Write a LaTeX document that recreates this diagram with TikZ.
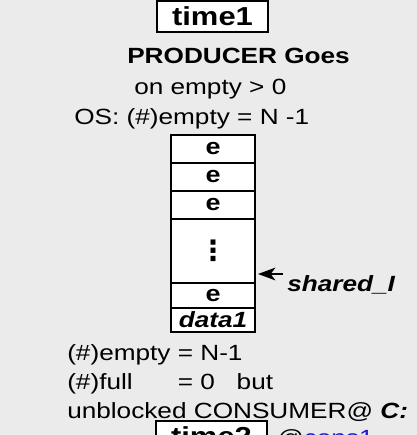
\documentclass[tikz,border=0pt]{standalone}
\usepackage{fontspec}
\setmainfont[FakeStretch=1.19]{Liberation Sans}
\newfontfamily\dotsfont{DejaVu Sans}
\usepackage{tikz}
\usetikzlibrary{arrows.meta,positioning,calc}
\definecolor{cPage}{HTML}{EBEBEB}
\definecolor{cInk}{HTML}{000000}
\definecolor{cLink}{HTML}{1C1CC8}
\newcommand{\pxfont}{\fontsize{16.5}{19.8}\selectfont}
\tikzset{
  txt/.style={inner sep=0pt,anchor=base west,font=\pxfont,text=cInk},
  btxt/.style={txt,font=\pxfont\bfseries},
  tbox/.style={draw=cInk,fill=white,line width=1.5pt,minimum width=83.5pt,minimum height=23.5pt,inner sep=0pt,font=\fontsize{19.5}{22}\selectfont\bfseries},
  cell/.style={draw=cInk,fill=white,line width=1.5pt,minimum width=63pt,minimum height=#1,inner sep=0pt,outer sep=0pt,font=\fontsize{17}{20}\selectfont\bfseries},
  cell/.default=21pt,
  ptr/.style={-{Stealth[length=13pt,width=9.5pt,inset=3.5pt]},line width=1.5pt,color=cInk},
}
\begin{document}
\begin{tikzpicture}[x=0.75pt,y=-0.75pt]
  \useasboundingbox[fill=cPage] (0,0) rectangle (417,435);
  \clip (0,0) rectangle (417,435);
  % producer, time1
  \node[tbox] (t1) at (212.5,16.5) {time1};
  \node[btxt] (prod) at (127,64) {PRODUCER Goes};
  \node[txt] (wait) at (134,94) {on empty > 0};
  \node[txt] (os) at (74,124) {OS: (\#)empty = N -1};
  % the buffer
  \node[cell,anchor=north] (e1) at (213,135) {e};
  \node[cell,below=0pt of e1] (e2) {e};
  \node[cell,below=0pt of e2] (e3) {e};
  \node[cell=48pt,below=0pt of e3,font=\fontsize{21}{24}\selectfont\dotsfont\bfseries] (dots) {⋮};
  \node[cell=18.75pt,below=0pt of dots] (e4) {e};
  \node[cell=18pt,below=0pt of e4,font=\pxfont\bfseries\itshape] (d1) {data1};
  \node[txt,font=\pxfont\bfseries\itshape] (shared) at (287,291) {shared\_I};
  \coordinate (slot) at ($(dots.south east)+(3,-9)$);
  \draw[ptr] ([shift={(-4,-17)}]shared.base west) -- (slot);
  % after the put
  \node[txt] (nempty) at (67,360) {(\#)empty = N-1};
  \node[txt] (nfull) at (67,389) {\rlap{(\#)full}\phantom{(\#)empty} = 0\ \ \ but};
  \node[txt] (unbl) at (67,418) {unblocked CONSUMER@ \textbf{\textit{C:}}};
  % consumer, time2 (cut off)
  \node[tbox] (t2) at (211.5,436.5) {time2};
  \node[txt] (cons) at (277,445) {@\textcolor{cLink}{cons1}};
\end{tikzpicture}
\end{document}
